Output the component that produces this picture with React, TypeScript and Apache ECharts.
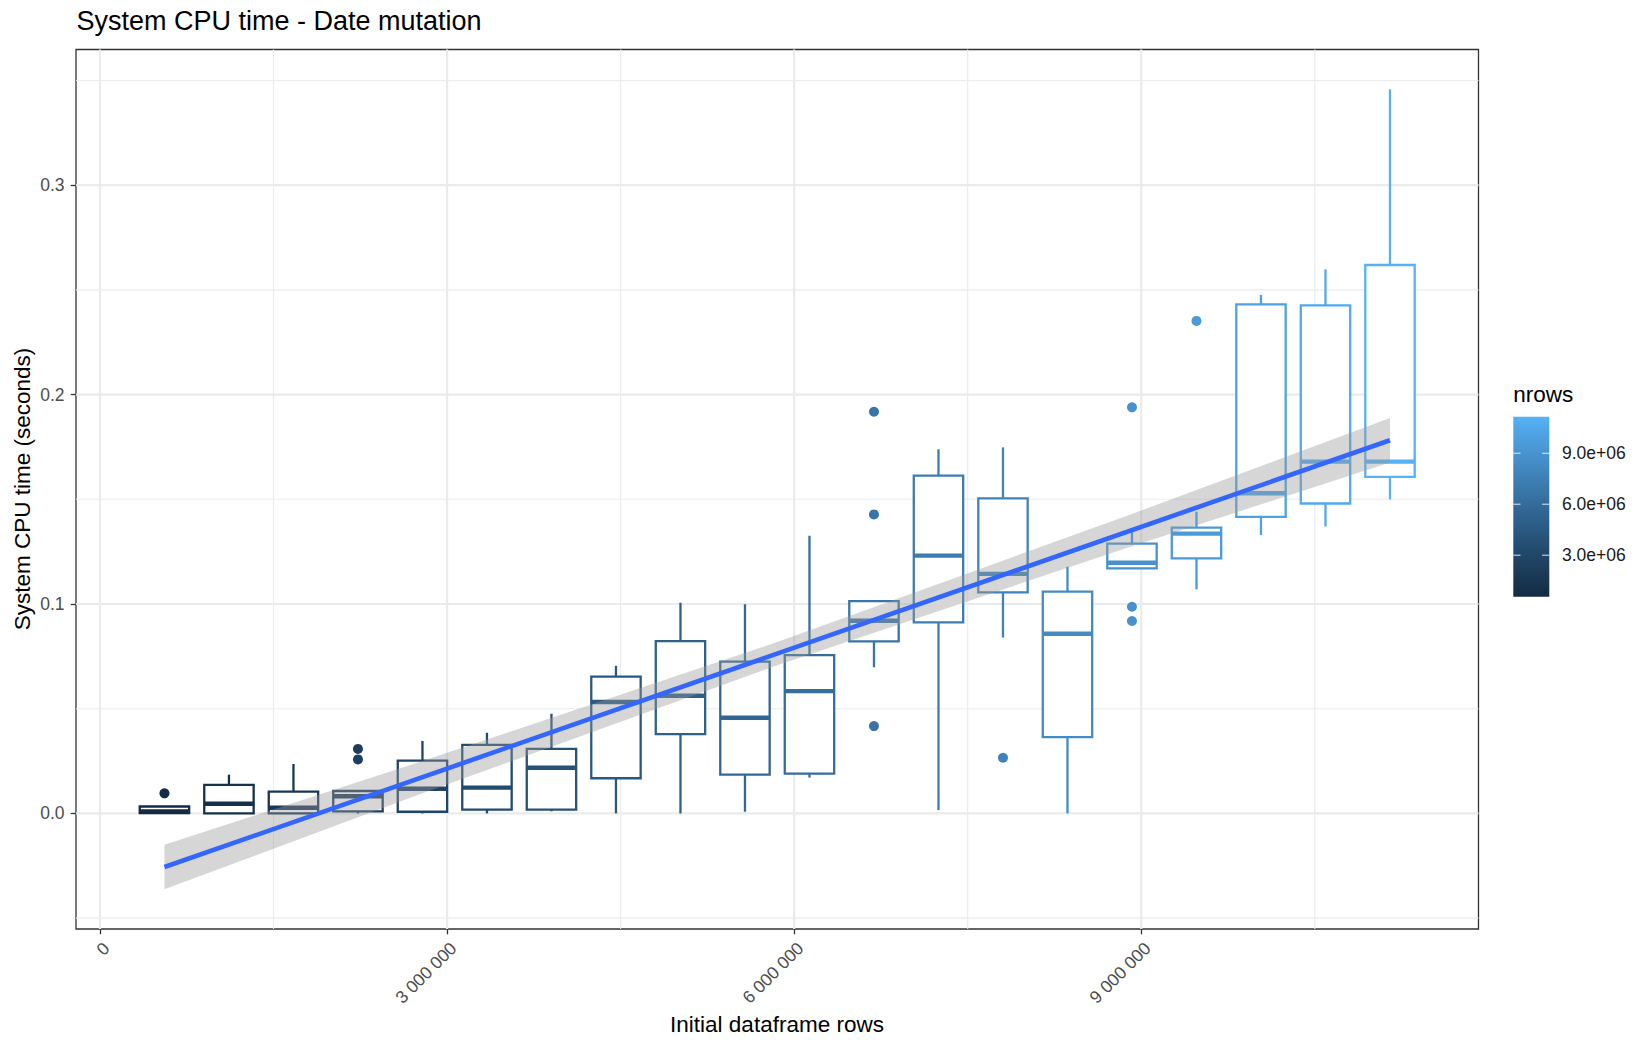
import React, { useEffect, useRef } from "react";
import * as echarts from "echarts";

// Initial dataframe sizes (one box per size)
const nrows = [
  557500, 1115000, 1672500, 2230000, 2787500, 3345000, 3902500, 4460000, 5017500, 5575000,
  6132500, 6690000, 7247500, 7805000, 8362500, 8920000, 9477500, 10035000, 10592500, 11150000,
];

// Box statistics of system CPU time (seconds)
const cpuMin = [
  0.0, 0.0, 0.0, 0.0, 0.0, 0.0, 0.001, 0.0, 0.0, 0.0008,
  0.0171, 0.0698, 0.0016, 0.084, 0.0, 0.117, 0.107, 0.133, 0.137, 0.15,
];
const cpuQ1 = [
  0.0001, 0.0, 0.0, 0.001, 0.0008, 0.0018, 0.0018, 0.0168, 0.0379, 0.0185,
  0.019, 0.0822, 0.0912, 0.1056, 0.0364, 0.117, 0.1218, 0.1416, 0.148, 0.1607,
];
const cpuMedian = [
  0.0009, 0.0046, 0.0027, 0.0082, 0.0118, 0.0123, 0.0218, 0.0532, 0.0562, 0.0457,
  0.0584, 0.092, 0.1231, 0.1144, 0.0858, 0.1197, 0.1336, 0.1529, 0.168, 0.168,
];
const cpuQ3 = [
  0.0033, 0.0136, 0.0104, 0.0107, 0.0252, 0.0327, 0.0308, 0.0653, 0.0823, 0.0725,
  0.0756, 0.1014, 0.1613, 0.1504, 0.1059, 0.1288, 0.1365, 0.2431, 0.2426, 0.2619,
];
const cpuMax = [
  0.0035, 0.0185, 0.0236, 0.011, 0.0346, 0.0385, 0.0476, 0.0705, 0.1006, 0.0999,
  0.1326, 0.1018, 0.1739, 0.1748, 0.1178, 0.1345, 0.1441, 0.2476, 0.2598, 0.3458,
];

// Outlying runs
const outlierRows = [557500, 2230000, 2230000, 6690000, 6690000, 6690000, 7805000, 8920000, 8920000, 8920000, 9477500];
const outlierCpu = [0.0096, 0.0308, 0.0258, 0.1918, 0.1428, 0.0417, 0.0266, 0.1939, 0.0987, 0.0919, 0.2352];

// Linear fit and its confidence band
const fitRows = [557500, 11150000];
const fitCpu = [-0.0256, 0.1782];
const bandRows = [557500, 2787500, 5853750, 8920000, 11150000];
const bandUpper = [-0.015, 0.025, 0.0818, 0.143, 0.1888];
const bandLower = [-0.0362, 0.0096, 0.0708, 0.1276, 0.1676];

// Axis ticks and grid
const xTicks = [0, 3000000, 6000000, 9000000];
const xMinor = [1500000, 4500000, 7500000, 10500000];
const yTicks = [0, 0.1, 0.2, 0.3];
const yMinor = [-0.05, 0.05, 0.15, 0.25, 0.35];
const legendTicks = [3000000, 6000000, 9000000];
const legendLabels = ["3.0e+06", "6.0e+06", "9.0e+06"];

const FONT = "'Liberation Sans', Arial, Helvetica, sans-serif";
const LOW = "#132B43";
const HIGH = "#56B1F7";
const BOX_WIDTH = 427000;

// --- colour ramp in CIE Lab, as ggplot's continuous colour scale ---
function hexToRgb(h: string) {
  const n = parseInt(h.slice(1), 16);
  return [(n >> 16) & 255, (n >> 8) & 255, n & 255];
}
function toLin(c: number) {
  c /= 255;
  return c <= 0.04045 ? c / 12.92 : Math.pow((c + 0.055) / 1.055, 2.4);
}
function fromLin(c: number) {
  const v = c <= 0.0031308 ? 12.92 * c : 1.055 * Math.pow(c, 1 / 2.4) - 0.055;
  return Math.round(Math.min(1, Math.max(0, v)) * 255);
}
const Xn = 0.95047, Yn = 1.0, Zn = 1.08883;
function f(t: number) {
  return t > 0.008856 ? Math.cbrt(t) : 7.787 * t + 16 / 116;
}
function finv(t: number) {
  return t * t * t > 0.008856 ? t * t * t : (t - 16 / 116) / 7.787;
}
function rgbToLab(rgb: number[]) {
  const [R, G, B] = rgb.map(toLin);
  const X = 0.4124564 * R + 0.3575761 * G + 0.1804375 * B;
  const Y = 0.2126729 * R + 0.7151522 * G + 0.072175 * B;
  const Z = 0.0193339 * R + 0.119192 * G + 0.9503041 * B;
  const fx = f(X / Xn), fy = f(Y / Yn), fz = f(Z / Zn);
  return [116 * fy - 16, 500 * (fx - fy), 200 * (fy - fz)];
}
function labToHex(lab: number[]) {
  const fy = (lab[0] + 16) / 116;
  const fx = fy + lab[1] / 500;
  const fz = fy - lab[2] / 200;
  const X = Xn * finv(fx), Y = Yn * finv(fy), Z = Zn * finv(fz);
  const R = 3.2404542 * X - 1.5371385 * Y - 0.4985314 * Z;
  const G = -0.969266 * X + 1.8760108 * Y + 0.041556 * Z;
  const B = 0.0556434 * X - 0.2040259 * Y + 1.0572252 * Z;
  const hex = [R, G, B].map((c) => fromLin(c).toString(16).padStart(2, "0")).join("");
  return "#" + hex;
}
const labLow = rgbToLab(hexToRgb(LOW));
const labHigh = rgbToLab(hexToRgb(HIGH));
function ramp(t: number) {
  return labToHex(labLow.map((v, i) => v + (labHigh[i] - v) * t));
}
const nMin = Math.min(...nrows);
const nMax = Math.max(...nrows);
function colourFor(n: number) {
  return ramp((n - nMin) / (nMax - nMin));
}

const fmtRows = (v: number) => String(Math.round(v)).replace(/\B(?=(\d{3})+(?!\d))/g, " ");

// Colour bar geometry
const BAR_X = 1513.3;
const BAR_Y = 416.7;
const BAR_W = 36;
const BAR_H = 180;
const barY = (v: number) => BAR_Y + BAR_H * (1 - (v - nMin) / (nMax - nMin));

function buildOption(): any {
  const boxData = nrows.map((n, i) => [n, cpuMin[i], cpuQ1[i], cpuMedian[i], cpuQ3[i], cpuMax[i]]);
  const outlierData = outlierRows.map((n, i) => ({
    value: [n, outlierCpu[i]],
    itemStyle: { color: colourFor(n), opacity: 1 },
  }));

  const stops = [];
  for (let i = 0; i <= 20; i++) stops.push({ offset: i / 20, color: ramp(i / 20) });

  const legendEls: any[] = [
    {
      type: "text",
      x: BAR_X,
      y: 394,
      style: { text: "nrows", font: `22.5px ${FONT}`, fill: "#000", align: "left", verticalAlign: "middle" },
    },
    {
      type: "rect",
      shape: { x: BAR_X, y: BAR_Y, width: BAR_W, height: BAR_H },
      style: { fill: new echarts.graphic.LinearGradient(0, 1, 0, 0, stops) },
    },
  ];
  legendTicks.forEach((v, i) => {
    const y = barY(v);
    legendEls.push(
      { type: "line", shape: { x1: BAR_X, y1: y, x2: BAR_X + 7.2, y2: y }, style: { stroke: "rgba(255,255,255,0.85)", lineWidth: 1 } },
      { type: "line", shape: { x1: BAR_X + BAR_W - 7.2, y1: y, x2: BAR_X + BAR_W, y2: y }, style: { stroke: "rgba(255,255,255,0.85)", lineWidth: 1 } },
      {
        type: "text",
        x: 1562,
        y,
        style: { text: legendLabels[i], font: `17.5px ${FONT}`, fill: "#1a1a1a", align: "left", verticalAlign: "middle" },
      }
    );
  });

  return {
    animation: false,
    backgroundColor: "#ffffff",
    textStyle: { fontFamily: FONT },
    grid: {
      left: 76,
      top: 49.5,
      width: 1402.5,
      height: 879.5,
      show: true,
      backgroundColor: "#ffffff",
      borderColor: "#333333",
      borderWidth: 1.3,
      containLabel: false,
      outerBoundsMode: "none",
    },
    xAxis: {
      type: "value",
      min: -207000,
      max: 11915000,
      axisLine: { show: false, onZero: false },
      splitLine: { show: false },
      axisTick: {
        show: true,
        customValues: xTicks,
        length: 5.3,
        lineStyle: { color: "#333333", width: 1.3 },
      },
      axisLabel: {
        customValues: xTicks,
        formatter: (v: number) => fmtRows(v),
        rotate: 45,
        align: "right",
        verticalAlign: "top",
        margin: 10,
        color: "#4D4D4D",
        fontSize: 17.5,
        fontFamily: FONT,
      },
    },
    yAxis: {
      type: "value",
      min: -0.0552,
      max: 0.3648,
      axisLine: { show: false, onZero: false },
      splitLine: { show: false },
      axisTick: {
        show: true,
        customValues: yTicks,
        length: 5.3,
        lineStyle: { color: "#333333", width: 1.3 },
      },
      axisLabel: {
        customValues: yTicks,
        formatter: (v: number) => v.toFixed(1),
        margin: 11.5,
        color: "#4D4D4D",
        fontSize: 17.5,
        fontFamily: FONT,
      },
    },
    graphic: [
      {
        type: "text",
        x: 76.5,
        y: 21.2,
        style: { text: "System CPU time - Date mutation", font: `27px ${FONT}`, fill: "#000", align: "left", verticalAlign: "middle" },
      },
      {
        type: "text",
        x: 777,
        y: 1024,
        style: { text: "Initial dataframe rows", font: `22.5px ${FONT}`, fill: "#000", align: "center", verticalAlign: "middle" },
      },
      {
        type: "text",
        x: 22,
        y: 489,
        rotation: Math.PI / 2,
        style: { text: "System CPU time (seconds)", font: `22.5px ${FONT}`, fill: "#000", align: "center", verticalAlign: "middle" },
      },
      ...legendEls,
    ],
    series: [
      {
        // panel grid lines
        type: "custom",
        coordinateSystem: "cartesian2d",
        silent: true,
        z: 1,
        data: [[0, 0]],
        renderItem: (params: any, api: any) => {
          const cs = params.coordSys;
          const children: any[] = [];
          const vline = (v: number, w: number) => {
            const x = api.coord([v, 0])[0];
            children.push({ type: "line", shape: { x1: x, y1: cs.y, x2: x, y2: cs.y + cs.height }, style: { stroke: "#EBEBEB", lineWidth: w } });
          };
          const hline = (v: number, w: number) => {
            const y = api.coord([0, v])[1];
            children.push({ type: "line", shape: { x1: cs.x, y1: y, x2: cs.x + cs.width, y2: y }, style: { stroke: "#EBEBEB", lineWidth: w } });
          };
          xMinor.forEach((v) => vline(v, 1.1));
          yMinor.forEach((v) => hline(v, 1.1));
          xTicks.forEach((v) => vline(v, 2.2));
          yTicks.forEach((v) => hline(v, 2.2));
          return { type: "group", children };
        },
      },
      {
        // box plots
        type: "custom",
        coordinateSystem: "cartesian2d",
        silent: true,
        z: 2,
        encode: { x: 0, y: [1, 2, 3, 4, 5] },
        data: boxData,
        renderItem: (params: any, api: any) => {
          const x = api.value(0);
          const c = colourFor(x);
          const cx = api.coord([x, api.value(2)])[0];
          const yLo = api.coord([x, api.value(1)])[1];
          const yQ1 = api.coord([x, api.value(2)])[1];
          const yMed = api.coord([x, api.value(3)])[1];
          const yQ3 = api.coord([x, api.value(4)])[1];
          const yHi = api.coord([x, api.value(5)])[1];
          const w = api.size([BOX_WIDTH, 0])[0];
          const lw = 2.3;
          return {
            type: "group",
            children: [
              { type: "line", shape: { x1: cx, y1: yQ3, x2: cx, y2: yHi }, style: { stroke: c, lineWidth: lw } },
              { type: "line", shape: { x1: cx, y1: yQ1, x2: cx, y2: yLo }, style: { stroke: c, lineWidth: lw } },
              {
                type: "rect",
                shape: { x: cx - w / 2, y: yQ3, width: w, height: yQ1 - yQ3 },
                style: { fill: "#ffffff", stroke: c, lineWidth: lw },
              },
              { type: "line", shape: { x1: cx - w / 2, y1: yMed, x2: cx + w / 2, y2: yMed }, style: { stroke: c, lineWidth: 4.4 } },
            ],
          };
        },
      },
      {
        type: "scatter",
        silent: true,
        z: 3,
        symbol: "circle",
        symbolSize: 10,
        itemStyle: { opacity: 1 },
        data: outlierData,
      },
      {
        // confidence band of the linear fit
        type: "custom",
        coordinateSystem: "cartesian2d",
        silent: true,
        z: 4,
        data: [[bandRows[0], bandLower[0]]],
        renderItem: (params: any, api: any) => {
          const pts: number[][] = [];
          bandRows.forEach((n, i) => pts.push(api.coord([n, bandUpper[i]])));
          for (let i = bandRows.length - 1; i >= 0; i--) pts.push(api.coord([bandRows[i], bandLower[i]]));
          return { type: "polygon", shape: { points: pts }, style: { fill: "rgba(153,153,153,0.4)" } };
        },
      },
      {
        type: "line",
        silent: true,
        z: 5,
        symbol: "none",
        data: fitRows.map((n, i) => [n, fitCpu[i]]),
        lineStyle: { color: "#3366FF", width: 4.6 },
      },
    ],
  };
}

export default function App() {
  const ref = useRef<HTMLDivElement>(null);
  useEffect(() => {
    if (!ref.current) return;
    const chart = echarts.init(ref.current, null, { renderer: "svg" });
    chart.setOption(buildOption());
    return () => chart.dispose();
  }, []);
  return (
    <div
      ref={ref}
      style={{ position: "absolute", left: 0, top: 0, width: 1650, height: 1050, background: "#ffffff" }}
    />
  );
}
